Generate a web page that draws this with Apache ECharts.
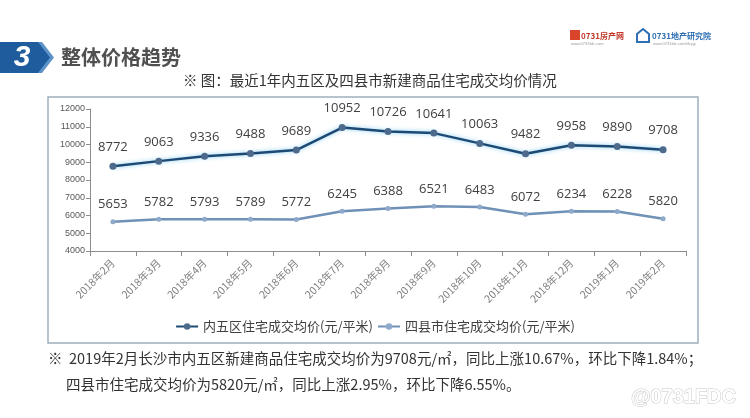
<!DOCTYPE html>
<html><head><meta charset="utf-8">
<script src="https://cdn.jsdelivr.net/npm/echarts@6/dist/echarts.min.js"></script>
<style>html,body{margin:0;padding:0;background:#fff;}#c{width:750px;height:418px;}</style>
</head><body><div id="c"></div>
<script>
const categories = ['2018年2月','2018年3月','2018年4月','2018年5月','2018年6月','2018年7月','2018年8月','2018年9月','2018年10月','2018年11月','2018年12月','2019年1月','2019年2月'];
const innerFive = [8772, 9063, 9336, 9488, 9689, 10952, 10726, 10641, 10063, 9482, 9958, 9890, 9708];
const fourCounty = [5653, 5782, 5793, 5789, 5772, 6245, 6388, 6521, 6483, 6072, 6234, 6228, 5820];
const seriesNames = ['内五区住宅成交均价(元/平米)', '四县市住宅成交均价(元/平米)'];
const yTicks = {min: 4000, max: 12000, interval: 1000};

const CJK = '"Noto Sans CJK SC", "Noto Sans", sans-serif';
const chart = echarts.init(document.getElementById('c'), null, {renderer: 'canvas'});
chart.setOption({
  backgroundColor: '#ffffff',
  animation: false,
  grid: {left: 90, right: 64, top: 109, bottom: 167},
  legend: {
    data: seriesNames, left: 'center', top: 315, itemGap: 4, itemWidth: 22, itemHeight: 8,
    textStyle: {fontSize: 13, color: '#404040', fontFamily: CJK}
  },
  xAxis: {
    type: 'category', data: categories, boundaryGap: true,
    axisLine: {lineStyle: {color: '#8c8c8c', width: 1}},
    axisTick: {show: true, alignWithLabel: false, length: 5, lineStyle: {color: '#8c8c8c'}},
    axisLabel: {rotate: 45, fontSize: 10.5, color: '#808080', fontFamily: CJK, margin: 10, interval: 0}
  },
  yAxis: {
    type: 'value', min: yTicks.min, max: yTicks.max, interval: yTicks.interval,
    axisLine: {show: true, lineStyle: {color: '#8c8c8c', width: 1}},
    axisTick: {show: true, length: 4, lineStyle: {color: '#8c8c8c'}},
    splitLine: {show: false},
    axisLabel: {fontSize: 9, color: '#595959', fontFamily: '"Liberation Sans", sans-serif', margin: 5, formatter: v => String(v)}
  },
  series: [
    {
      name: seriesNames[0], type: 'line', data: innerFive,
      symbol: 'circle', symbolSize: 7,
      lineStyle: {color: '#1d4a75', width: 2.5, shadowColor: 'rgba(120,200,240,0.9)', shadowBlur: 4},
      itemStyle: {color: '#4d6a8c'},
      label: {show: true, position: 'top', distance: 9, fontSize: 13, color: '#404040', fontFamily: '"Open Sans", sans-serif'}
    },
    {
      name: seriesNames[1], type: 'line', data: fourCounty,
      symbol: 'circle', symbolSize: 5,
      lineStyle: {color: '#6f91b7', width: 2.5},
      itemStyle: {color: '#8ea9c9'},
      label: {show: true, position: 'top', distance: 8, fontSize: 13, color: '#404040', fontFamily: '"Open Sans", sans-serif'}
    }
  ],
  graphic: [
    {type: 'rect', shape: {x: 48, y: 97, width: 650, height: 246}, style: {fill: 'none', stroke: '#9fb0c0', lineWidth: 1.5}, silent: true, z: -1},
    {type: 'polygon', shape: {points: [[0,42],[40,42],[52,57.5],[40,73],[0,73]]}, style: {fill: '#1e5c9e'}},
    {type: 'polygon', shape: {points: [[38,42],[42,42],[54,57.5],[42,73],[38,73],[50,57.5]]}, style: {fill: '#5d93c8'}},
    {type: 'text', x: 22, y: 58, style: {text: '3', fill: '#ffffff', font: 'italic bold 30px "Liberation Sans", sans-serif', textAlign: 'center', textVerticalAlign: 'middle'}},
    {type: 'text', x: 61, y: 57, style: {text: '整体价格趋势', fill: '#505050', font: 'bold 20px "Noto Sans CJK SC"', textAlign: 'left', textVerticalAlign: 'middle'}},
    {type: 'text', x: 183, y: 80, style: {text: '※ 图：最近1年内五区及四县市新建商品住宅成交均价情况', fill: '#333333', font: '14.5px "Noto Sans CJK SC"', textAlign: 'left', textVerticalAlign: 'middle'}},
    {type: 'text', x: 48, y: 358, style: {text: '※  2019年2月长沙市内五区新建商品住宅成交均价为9708元/㎡，同比上涨10.67%，环比下降1.84%；', fill: '#333333', font: '14.5px "Noto Sans CJK SC"', textAlign: 'left', textVerticalAlign: 'middle'}},
    {type: 'text', x: 66, y: 384, style: {text: '四县市住宅成交均价为5820元/㎡，同比上涨2.95%，环比下降6.55%。', fill: '#333333', font: '14.5px "Noto Sans CJK SC"', textAlign: 'left', textVerticalAlign: 'middle'}},
    {type: 'text', x: 736, y: 397, style: {text: '@0731FDC', fill: '#ffffff', stroke: '#c8c8c8', lineWidth: 1, font: 'bold 20px "Liberation Sans", sans-serif', textAlign: 'right', textVerticalAlign: 'middle'}},
    {type: 'rect', shape: {x: 570, y: 30, width: 10, height: 10}, style: {fill: '#d9452b'}},
    {type: 'text', x: 581, y: 36, style: {text: '0731房产网', fill: '#c0392b', font: 'bold 8px "Noto Sans CJK SC"', textAlign: 'left', textVerticalAlign: 'middle'}},
    {type: 'text', x: 571, y: 44, style: {text: 'www.0731fdc.com', fill: '#999999', font: '4px sans-serif', textAlign: 'left', textVerticalAlign: 'middle'}},
    {type: 'polygon', shape: {points: [[637,42],[637,34],[643,29],[649,34],[649,42]]}, style: {fill: 'none', stroke: '#2e6fb5', lineWidth: 2}},
    {type: 'text', x: 652, y: 36, style: {text: '0731地产研究院', fill: '#2e6fb5', font: 'bold 8px "Noto Sans CJK SC"', textAlign: 'left', textVerticalAlign: 'middle'}},
    {type: 'text', x: 653, y: 44, style: {text: 'www.0731fdc.com/dcyjy', fill: '#999999', font: '4px sans-serif', textAlign: 'left', textVerticalAlign: 'middle'}}
  ]
});
</script></body></html>
